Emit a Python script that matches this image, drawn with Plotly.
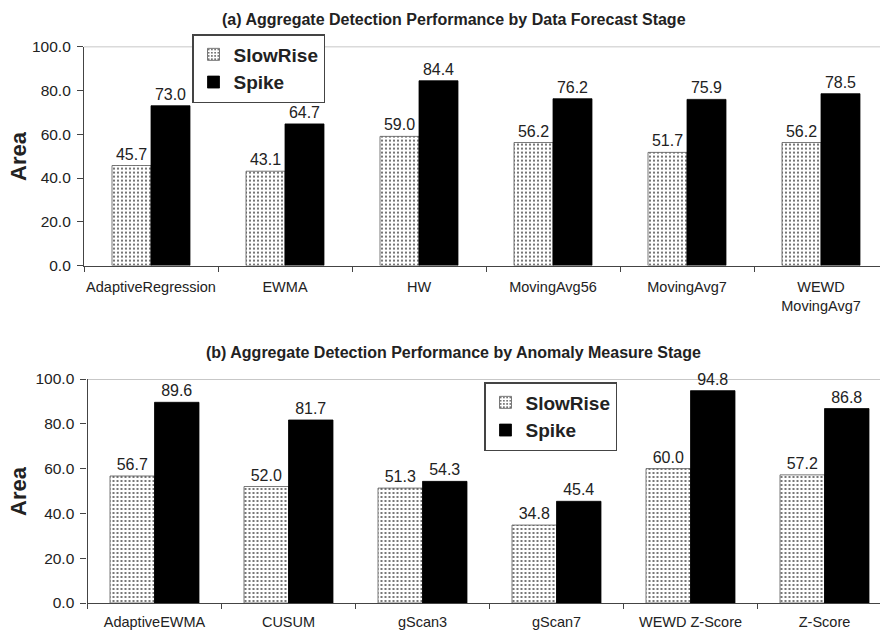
import plotly.graph_objects as go

# Panel (a): data forecast stage
categories_a = ["AdaptiveRegression", "EWMA", "HW", "MovingAvg56", "MovingAvg7", "WEWD<br>MovingAvg7"]
slowrise_a = [45.7, 43.1, 59.0, 56.2, 51.7, 56.2]
spike_a = [73.0, 64.7, 84.4, 76.2, 75.9, 78.5]

# Panel (b): anomaly measure stage
categories_b = ["AdaptiveEWMA", "CUSUM", "gScan3", "gScan7", "WEWD Z-Score", "Z-Score"]
slowrise_b = [56.7, 52.0, 51.3, 34.8, 60.0, 57.2]
spike_b = [89.6, 81.7, 54.3, 45.4, 94.8, 86.8]

y_ticks = [0, 20, 40, 60, 80, 100]

FONT = "Liberation Sans, Arial, sans-serif"
TEXT = "#222222"
W, H = 880, 632

dots = dict(shape=".", size=4, solidity=0.22, fgcolor="#555555", bgcolor="white", fillmode="replace")


def add_panel(cats, slow, spike, xa, ya, legend, bw):
    fig.add_trace(go.Bar(
        x=cats, y=slow, name="SlowRise", xaxis=xa, yaxis=ya, legend=legend,
        width=bw, offset=-bw,
        marker=dict(color="white", pattern=dots, line=dict(color="#555555", width=0.8)),
        texttemplate="%{y:.1f}", textposition="outside", cliponaxis=False,
        textfont=dict(family=FONT, size=16, color=TEXT),
    ))
    fig.add_trace(go.Bar(
        x=cats, y=spike, name="Spike", xaxis=xa, yaxis=ya, legend=legend,
        width=bw, offset=0,
        marker=dict(color="black", line=dict(color="black", width=0.8)),
        texttemplate="%{y:.1f}", textposition="outside", cliponaxis=False,
        textfont=dict(family=FONT, size=16, color=TEXT),
    ))


fig = go.Figure()
add_panel(categories_a, slowrise_a, spike_a, "x", "y", "legend", 0.291)
add_panel(categories_b, slowrise_b, spike_b, "x2", "y2", "legend2", 0.332)

cat_px = 134.0
xa_left, xb_left = 84.0, 87.5

xaxis_common = dict(
    type="category", showline=True, linecolor="#444444", linewidth=1.2,
    ticks="outside", ticklen=5, tickcolor="#444444", tickson="boundaries",
    showgrid=False, zeroline=False, tickangle=0,
    tickfont=dict(family=FONT, size=14.5, color=TEXT), fixedrange=True,
)
yaxis_common = dict(
    range=[0, 100], tickvals=y_ticks, tickformat=".1f",
    showline=True, linecolor="#444444", linewidth=1.2,
    ticks="outside", ticklen=6, tickcolor="#444444", ticklabelstandoff=3,
    showgrid=False, zeroline=False,
    tickfont=dict(family=FONT, size=15.5, color=TEXT),
)

legend_common = dict(
    xanchor="left", yanchor="top",
    bgcolor="white", bordercolor="#444444", borderwidth=1.5,
    font=dict(family=FONT, size=19, color=TEXT, weight="bold"),
    itemwidth=30, tracegroupgap=0,
)

fig.update_layout(
    width=W, height=H, autosize=False,
    margin=dict(l=0, r=0, t=0, b=0, autoexpand=False),
    paper_bgcolor="white", plot_bgcolor="white",
    showlegend=True,
    xaxis=dict(xaxis_common, domain=[xa_left / W, 1.0], anchor="y", ticklabelstandoff=8,
               range=[-0.5, -0.5 + (W - xa_left) / cat_px]),
    yaxis=dict(yaxis_common, domain=[1 - 265.6 / H, 1 - 46.6 / H], anchor="x"),
    xaxis2=dict(xaxis_common, domain=[xb_left / W, 1.0], anchor="y2", ticklabelstandoff=5,
                range=[-0.5, -0.5 + (W - xb_left) / cat_px]),
    yaxis2=dict(yaxis_common, domain=[1 - 603 / H, 1 - 379 / H], anchor="x2"),
    legend=dict(legend_common, x=192 / W, y=1 - 34 / H),
    legend2=dict(legend_common, x=484 / W, y=1 - 382 / H),
    shapes=[
        dict(type="line", xref="x domain", yref="y", x0=0, x1=1, y0=100, y1=100,
             line=dict(color="#b5b5b5", width=1.5), layer="below"),
        dict(type="line", xref="x2 domain", yref="y2", x0=0, x1=1, y0=100, y1=100,
             line=dict(color="#b5b5b5", width=1.5), layer="below"),
    ],
    annotations=[
        dict(text="<b>(a) Aggregate Detection Performance by Data Forecast Stage</b>",
             xref="paper", yref="paper", x=453.5 / W, y=1 - 20 / H,
             xanchor="center", yanchor="middle", showarrow=False,
             font=dict(family=FONT, size=16, color=TEXT)),
        dict(text="<b>(b) Aggregate Detection Performance by Anomaly Measure Stage</b>",
             xref="paper", yref="paper", x=453.5 / W, y=1 - 352 / H,
             xanchor="center", yanchor="middle", showarrow=False,
             font=dict(family=FONT, size=16, color=TEXT)),
        dict(text="<b>Area</b>", textangle=-90,
             xref="paper", yref="paper", x=18 / W, y=1 - 156 / H,
             xanchor="center", yanchor="middle", showarrow=False,
             font=dict(family=FONT, size=22, color=TEXT)),
        dict(text="<b>Area</b>", textangle=-90,
             xref="paper", yref="paper", x=18 / W, y=1 - 491 / H,
             xanchor="center", yanchor="middle", showarrow=False,
             font=dict(family=FONT, size=22, color=TEXT)),
    ],
)

fig.write_html("out.html")
